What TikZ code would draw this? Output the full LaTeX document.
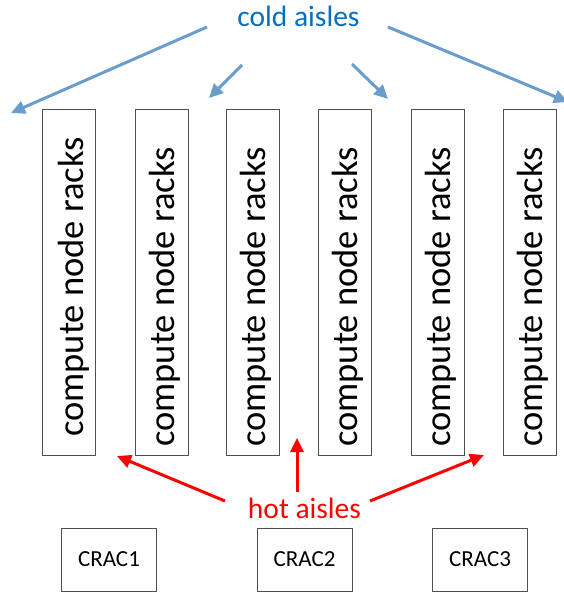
\documentclass[tikz,border=0pt]{standalone}
\usepackage{fontspec}
\setmainfont{Carlito}
\usetikzlibrary{arrows.meta}
\definecolor{coldtxt}{RGB}{0,112,192}
\definecolor{coldarr}{RGB}{104,157,206}
\definecolor{boxgray}{RGB}{80,80,80}
\tikzset{
  rackbox/.style={draw=boxgray, line width=0.9pt, minimum width=53pt, minimum height=346pt, inner sep=0pt},
  racktext/.style={rotate=90, anchor=base, font=\fontsize{36.5}{40}\selectfont, inner sep=0pt},
  cracbox/.style={draw=boxgray, line width=0.9pt, minimum width=95pt, minimum height=63pt, inner sep=0pt, font=\fontsize{23}{26}\selectfont},
  coldarrow/.style={draw=coldarr, line width=3pt, -{Triangle[length=14pt,width=13pt]}},
  hotarrow/.style={draw=red, line width=3pt, -{Triangle[length=14pt,width=13pt]}},
  aislelabel/.style={font=\fontsize{29.5}{32}\selectfont, inner sep=0pt}
}
\begin{document}
\begin{tikzpicture}[x=1pt,y=-1pt]
\useasboundingbox (0,0) rectangle (564,594);
% racks
\node[rackbox] (r1) at (69,282) {};
\node[rackbox] (r2) at (161.5,282) {};
\node[rackbox] (r3) at (253,282) {};
\node[rackbox] (r4) at (345,282) {};
\node[rackbox] (r5) at (437.5,282) {};
\node[rackbox] (r6) at (529.5,282) {};
\node[racktext] (t1) at (83,287) {compute node racks};
\node[racktext] (t2) at (174,297) {compute node racks};
\node[racktext] (t3) at (265.5,297) {compute node racks};
\node[racktext] (t4) at (357.5,297) {compute node racks};
\node[racktext] (t5) at (450,297) {compute node racks};
\node[racktext] (t6) at (542,297) {compute node racks};
% CRACs
\node[cracbox] (c1) at (109,559.5) {CRAC1};
\node[cracbox] (c2) at (304.5,559.5) {CRAC2};
\node[cracbox] (c3) at (480,559.5) {CRAC3};
% labels
\node[aislelabel, text=coldtxt, anchor=base] (cold) at (298.5,27) {cold aisles};
\node[aislelabel, text=red, anchor=base] (hot) at (304.5,518) {hot aisles};
% cold arrow end points
\coordinate (ca1s) at (207,27);
\coordinate (ca1e) at (11,113);
\coordinate (ca2s) at (242,65);
\coordinate (ca2e) at (209,98);
\coordinate (ca3s) at (352,64);
\coordinate (ca3e) at (388,99);
\coordinate (ca4s) at (388,27);
\coordinate (ca4e) at (568,102);
\draw[coldarrow] (ca1s) -- (ca1e);
\draw[coldarrow] (ca2s) -- (ca2e);
\draw[coldarrow] (ca3s) -- (ca3e);
\draw[coldarrow] (ca4s) -- (ca4e);
% hot arrows
\coordinate (ha1s) at (225,501);
\coordinate (ha1e) at (117,456);
\coordinate (ha2s) at (297,492);
\coordinate (ha2e) at (297,438);
\coordinate (ha3s) at (370,501);
\coordinate (ha3e) at (484,455);
\draw[hotarrow] (ha1s) -- (ha1e);
\draw[hotarrow] (ha2s) -- (ha2e);
\draw[hotarrow] (ha3s) -- (ha3e);
\end{tikzpicture}
\end{document}
